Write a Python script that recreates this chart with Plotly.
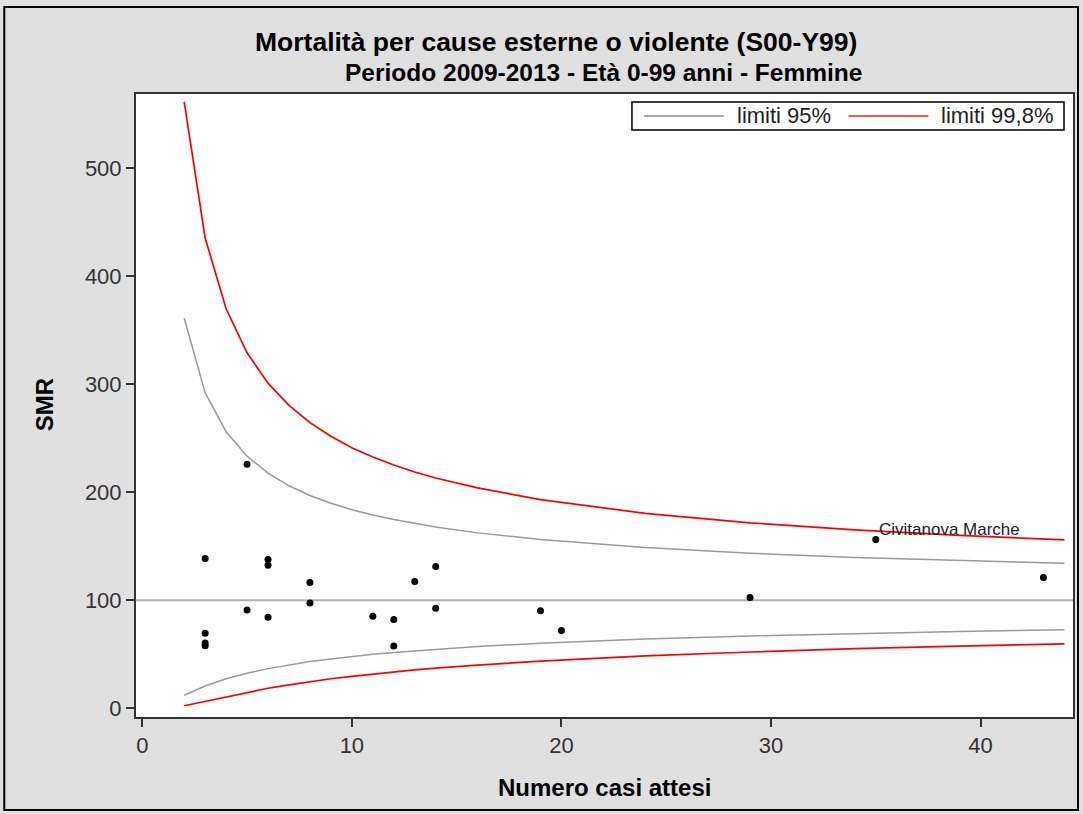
import plotly.graph_objects as go

# ---- data ----
# expected cases (nodes of the control-limit curves)
lim_x = [2, 3, 4, 5, 6, 7, 8, 9, 10, 11, 12, 13, 14, 16, 19, 24, 29, 34, 39, 44]
upper95 = [361.2, 292.3, 256.0, 233.4, 217.7, 206.0, 197.0, 189.8, 183.9, 178.9,
           174.7, 171.0, 167.8, 162.4, 156.2, 148.8, 143.6, 139.7, 136.7, 134.2]
lower95 = [12.1, 20.6, 27.3, 32.5, 36.7, 40.2, 43.2, 45.7, 48.0, 49.9,
           51.7, 53.2, 54.7, 57.2, 60.2, 64.1, 67.0, 69.3, 71.1, 72.7]
upper998 = [561.5, 435.4, 369.9, 329.1, 301.0, 280.4, 264.5, 251.8, 241.3, 232.6,
            225.2, 218.8, 213.2, 204.0, 193.2, 180.5, 171.7, 165.2, 160.0, 155.9]
lower998 = [2.3, 6.4, 10.7, 14.8, 18.5, 21.7, 24.6, 27.3, 29.6, 31.7,
            33.7, 35.5, 37.1, 40.0, 43.6, 48.5, 52.1, 55.2, 57.6, 59.7]

# observed municipalities
pts_x = [3, 3, 3, 3, 5, 5, 6, 6, 6, 8, 8, 11, 12, 12, 13, 14, 14, 19, 20, 29, 35, 43]
pts_smr = [138.6, 69.4, 60.5, 57.8, 226.0, 91.0, 137.7, 132.4, 84.3, 116.4, 97.5,
           85.2, 82.1, 57.7, 117.3, 131.2, 92.6, 90.4, 71.9, 102.5, 156.2, 121.0]
label_name = "Civitanova Marche"
label_x, label_y = 35, 156.2

ref_line = 100
x_ticks = [0, 10, 20, 30, 40]
y_ticks = [0, 100, 200, 300, 400, 500]

title1 = "Mortalità per cause esterne o violente (S00-Y99)"
title2 = "Periodo 2009-2013 - Età 0-99 anni - Femmine"
legend_labels = ["limiti 95%", "limiti 99,8%"]

# ---- layout geometry (pixels) ----
W, H = 1083, 814
L, R, T, B = 136, 1075, 94, 717
PW, PH = R - L, B - T


def px(x):
    return (x - L) / PW


def py(y):
    return (B - y) / PH


FONT = "Liberation Sans, Arial, sans-serif"
GRAY = "#9a9a9a"
RED = "#ff0000"

fig = go.Figure()

# reference line
fig.add_trace(go.Scatter(x=[-1, 46], y=[ref_line, ref_line], mode="lines",
                         line=dict(color="#b0b0b0", width=2), showlegend=False,
                         hoverinfo="skip"))
# limit curves
for ys in (upper95, lower95):
    fig.add_trace(go.Scatter(x=lim_x, y=ys, mode="lines",
                             line=dict(color=GRAY, width=1.5), showlegend=False))
for ys in (upper998, lower998):
    fig.add_trace(go.Scatter(x=lim_x, y=ys, mode="lines",
                             line=dict(color=RED, width=1.7), showlegend=False))
# points
fig.add_trace(go.Scatter(x=pts_x, y=pts_smr, mode="markers",
                         marker=dict(color="black", size=7), showlegend=False))

annotations = [
    dict(text=f"<b>{title1}</b>", x=px(557), y=py(42), xref="paper", yref="paper",
         showarrow=False, font=dict(size=26.5, color="black", family=FONT),
         xanchor="center", yanchor="middle"),
    dict(text=f"<b>{title2}</b>", x=px(604), y=py(72), xref="paper", yref="paper",
         showarrow=False, font=dict(size=24.5, color="black", family=FONT),
         xanchor="center", yanchor="middle"),
    dict(text="<b>SMR</b>", x=px(45), y=py(405), xref="paper", yref="paper",
         showarrow=False, textangle=-90, font=dict(size=24, color="black", family=FONT),
         xanchor="center", yanchor="middle"),
    dict(text="<b>Numero casi attesi</b>", x=px(605), y=py(787), xref="paper", yref="paper",
         showarrow=False, font=dict(size=24, color="black", family=FONT),
         xanchor="center", yanchor="middle"),
    dict(text=label_name, x=label_x, y=label_y, xref="x", yref="y", showarrow=False,
         xanchor="left", yanchor="middle", xshift=1, yshift=10,
         font=dict(size=17, color="#222222", family=FONT)),
    dict(text=legend_labels[0], x=px(736), y=py(116), xref="paper", yref="paper",
         showarrow=False, xanchor="left", yanchor="middle",
         font=dict(size=22, color="#222222", family=FONT)),
    dict(text=legend_labels[1], x=px(941), y=py(116), xref="paper", yref="paper",
         showarrow=False, xanchor="left", yanchor="middle",
         font=dict(size=22, color="#222222", family=FONT)),
]

shapes = [
    # outer frame
    dict(type="rect", xref="paper", yref="paper", x0=px(4), x1=px(1080), y0=py(810), y1=py(7),
         line=dict(color="black", width=2), layer="below"),
    # legend box
    dict(type="rect", xref="paper", yref="paper", x0=px(633), x1=px(1066), y0=py(130), y1=py(102),
         line=dict(color="black", width=1.5), fillcolor="white"),
    dict(type="line", xref="paper", yref="paper", x0=px(645), x1=px(725), y0=py(116), y1=py(116),
         line=dict(color="#aaaaaa", width=2)),
    dict(type="line", xref="paper", yref="paper", x0=px(850), x1=px(930), y0=py(116), y1=py(116),
         line=dict(color="#ff5555", width=2)),
]

axis_common = dict(showline=True, linecolor="#333333", linewidth=2, mirror=True,
                   ticks="outside", ticklen=8, tickwidth=2, tickcolor="#333333",
                   showgrid=False, zeroline=False,
                   tickfont=dict(size=22, color="#333333", family=FONT))

fig.update_layout(
    width=W, height=H,
    margin=dict(l=L, r=W - R, t=T, b=H - B, pad=0),
    paper_bgcolor="#e0e0e0", plot_bgcolor="white",
    xaxis=dict(range=[-0.3, 44.41], tickvals=x_ticks, **axis_common),
    yaxis=dict(range=[-8.1, 568.8], tickvals=y_ticks, **axis_common),
    annotations=annotations, shapes=shapes, showlegend=False,
)

fig.write_html("out.html", config={"displayModeBar": False},
               post_script="document.body.style.margin='0';document.body.style.overflow='hidden';")
